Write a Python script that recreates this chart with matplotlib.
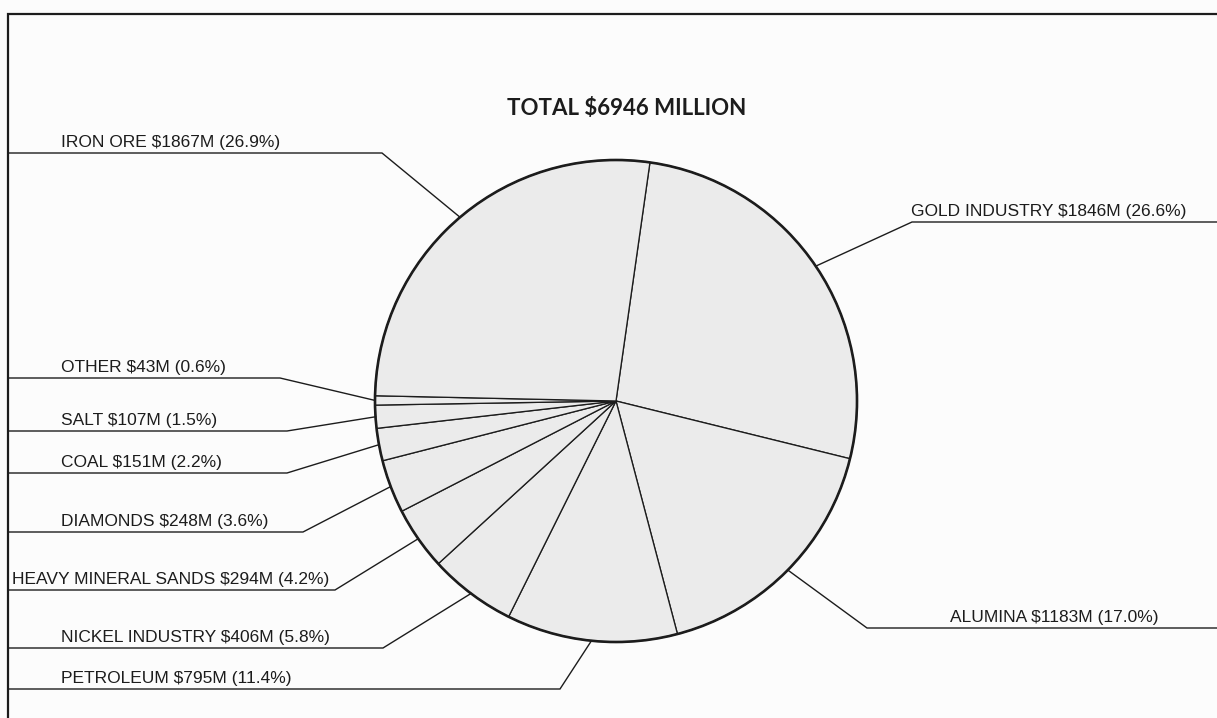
import numpy as np
import matplotlib
matplotlib.use("Agg")
import matplotlib.pyplot as plt
from matplotlib.patches import Circle

# Mineral and petroleum sales by commodity ($ million), clockwise from the top
names = ["GOLD INDUSTRY", "ALUMINA", "PETROLEUM", "NICKEL INDUSTRY",
         "HEAVY MINERAL SANDS", "DIAMONDS", "COAL", "SALT", "OTHER", "IRON ORE"]
values = [1846, 1183, 795, 406, 294, 248, 151, 107, 43, 1867]
percents = [26.6, 17.0, 11.4, 5.8, 4.2, 3.6, 2.2, 1.5, 0.6, 26.9]
title = "TOTAL $6946 MILLION"

W, H = 1217, 718
INK = "#1c1c1c"
FILL = "#ebebeb"
BG = "#fcfcfc"

# Label layout in pixel units (y measured downward):
# (elbow x, line y, text x, line runs to the left frame or the right edge)
layout = {
    "GOLD INDUSTRY":       (912, 222, 911, "right"),
    "ALUMINA":             (867, 628, 950, "right"),
    "PETROLEUM":           (560, 689, 61, "left"),
    "NICKEL INDUSTRY":     (383, 648, 61, "left"),
    "HEAVY MINERAL SANDS": (335, 590, 12, "left"),
    "DIAMONDS":            (303, 532, 61, "left"),
    "COAL":                (287, 473, 61, "left"),
    "SALT":                (287, 431, 61, "left"),
    "OTHER":               (280, 378, 61, "left"),
    "IRON ORE":            (382, 153, 61, "left"),
}

fig = plt.figure(figsize=(W / 100, H / 100), dpi=100, facecolor=BG)
ax = fig.add_axes([0, 0, 1, 1])
ax.set_facecolor(BG)

cx, cy, r = 616, 401, 241
# y axis runs downward, so the on-screen clockwise order uses counterclock=True
wedges, _ = ax.pie(values, startangle=-81.9, counterclock=True,
                   center=(cx, cy), radius=r, colors=[FILL] * len(values),
                   wedgeprops=dict(edgecolor=INK, linewidth=0.95),
                   frame=True)
ax.add_patch(Circle((cx, cy), r, fill=False, edgecolor=INK, linewidth=1.9, zorder=5))

ax.set_xlim(0, W)
ax.set_ylim(H, 0)
ax.set_aspect("auto")
ax.axis("off")

for w, name, v, p in zip(wedges, names, values, percents):
    mid = np.deg2rad((w.theta1 + w.theta2) / 2)
    px, py = cx + r * np.cos(mid), cy + r * np.sin(mid)
    ex, ly, tx, side = layout[name]
    end = 8 if side == "left" else W
    ax.plot([px, ex, end], [py, ly, ly], color=INK, lw=1.0, solid_joinstyle="miter", zorder=4)
    ax.text(tx, ly - 6, f"{name} ${v}M ({p:.1f}%)", fontsize=12.5,
            family="Liberation Sans", color=INK, ha="left", va="baseline")

# Frame
ax.plot([8, 8, W], [H, 14, 14], color=INK, lw=1.6, solid_joinstyle="miter")

ax.text(627, 115, title, fontsize=16, family="Lato", fontweight="bold",
        color=INK, ha="center", va="baseline")

fig.savefig("out.png", dpi=100, facecolor=BG)
